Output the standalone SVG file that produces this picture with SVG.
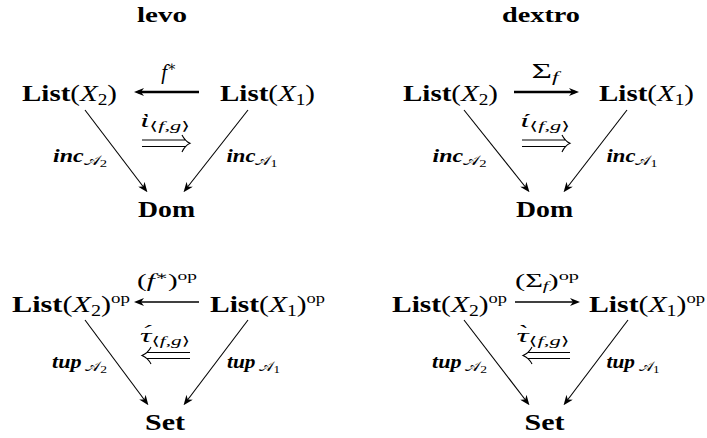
<svg xmlns="http://www.w3.org/2000/svg" width="707" height="438" viewBox="0 0 707 438">
<style>
text{font-family:"Liberation Serif","DejaVu Serif",serif;fill:#000}
.node{font-size:24px;text-anchor:middle}
.b{font-weight:bold}
.i{font-style:italic}
.bi{font-weight:bold;font-style:italic}
.lbl{font-size:18px;text-anchor:middle}
.big{font-size:21px}
.ttl{font-size:20px;font-weight:bold;text-anchor:middle}
.ar{stroke:#000;fill:none;marker-end:url(#ah)}
.thin{stroke-width:1.1}
.thick{stroke-width:2.6}
.med{stroke-width:1.6}
.dbl{stroke:#000;fill:none;stroke-width:1.1}
</style>
<defs>
<marker id="ah" viewBox="0 0 10 8" refX="6" refY="4" markerWidth="10" markerHeight="8" orient="auto" markerUnits="userSpaceOnUse">
<path d="M0,0 L10,4 L0,8 L3,4 z" fill="#000"/>
</marker>
</defs>

<text class="ttl" x="162" y="22" textLength="50" lengthAdjust="spacingAndGlyphs">levo</text>
<text class="ttl" x="541" y="22" textLength="78" lengthAdjust="spacingAndGlyphs">dextro</text>

<!-- top-left -->
<g id="tl-list2"><text class="node" x="69.5" y="101" textLength="95" lengthAdjust="spacingAndGlyphs"><tspan class="b">List</tspan>(<tspan class="i">X</tspan><tspan font-size="16" dy="4">2</tspan><tspan dy="-4">)</tspan></text></g>
<g id="tl-list1"><text class="node" x="267.5" y="101" textLength="95" lengthAdjust="spacingAndGlyphs"><tspan class="b">List</tspan>(<tspan class="i">X</tspan><tspan font-size="16" dy="4">1</tspan><tspan dy="-4">)</tspan></text></g>
<g id="tl-dom"><text class="node b" x="166.5" y="217" textLength="57" lengthAdjust="spacingAndGlyphs">Dom</text></g>

<!-- top-right -->
<g id="tr-list2"><text class="node" x="450.5" y="101" textLength="95" lengthAdjust="spacingAndGlyphs"><tspan class="b">List</tspan>(<tspan class="i">X</tspan><tspan font-size="16" dy="4">2</tspan><tspan dy="-4">)</tspan></text></g>
<g id="tr-list1"><text class="node" x="646.5" y="101" textLength="95" lengthAdjust="spacingAndGlyphs"><tspan class="b">List</tspan>(<tspan class="i">X</tspan><tspan font-size="16" dy="4">1</tspan><tspan dy="-4">)</tspan></text></g>
<g id="tr-dom"><text class="node b" x="544.5" y="217" textLength="57" lengthAdjust="spacingAndGlyphs">Dom</text></g>

<!-- bottom-left -->
<g id="bl-list2"><text class="node" x="71" y="312" textLength="118" lengthAdjust="spacingAndGlyphs"><tspan class="b">List</tspan>(<tspan class="i">X</tspan><tspan font-size="16" dy="4">2</tspan><tspan dy="-4">)</tspan><tspan font-size="15" dy="-9">op</tspan></text></g>
<g id="bl-list1"><text class="node" x="267.5" y="312" textLength="115" lengthAdjust="spacingAndGlyphs"><tspan class="b">List</tspan>(<tspan class="i">X</tspan><tspan font-size="16" dy="4">1</tspan><tspan dy="-4">)</tspan><tspan font-size="15" dy="-9">op</tspan></text></g>
<g id="bl-set"><text class="node b" x="165" y="430" textLength="40" lengthAdjust="spacingAndGlyphs">Set</text></g>

<!-- bottom-right -->
<g id="br-list2"><text class="node" x="449.5" y="312" textLength="115" lengthAdjust="spacingAndGlyphs"><tspan class="b">List</tspan>(<tspan class="i">X</tspan><tspan font-size="16" dy="4">2</tspan><tspan dy="-4">)</tspan><tspan font-size="15" dy="-9">op</tspan></text></g>
<g id="br-list1"><text class="node" x="647" y="312" textLength="116" lengthAdjust="spacingAndGlyphs"><tspan class="b">List</tspan>(<tspan class="i">X</tspan><tspan font-size="16" dy="4">1</tspan><tspan dy="-4">)</tspan><tspan font-size="15" dy="-9">op</tspan></text></g>
<g id="br-set"><text class="node b" x="544.5" y="430" textLength="40" lengthAdjust="spacingAndGlyphs">Set</text></g>

<g id="connectors">
<line class="ar thick" x1="199" y1="92" x2="138" y2="92"/>
<line class="ar thin" x1="85" y1="110" x2="145" y2="189"/>
<line class="ar thin" x1="248" y1="110" x2="186" y2="189"/>
<line class="ar thick" x1="514" y1="92" x2="575" y2="92"/>
<line class="ar thin" x1="464" y1="110" x2="527" y2="189"/>
<line class="ar thin" x1="627" y1="110" x2="566" y2="189"/>
<line class="ar med" x1="199" y1="302" x2="138" y2="302"/>
<line class="ar thin" x1="85" y1="320" x2="146" y2="402"/>
<line class="ar thin" x1="248" y1="320" x2="186" y2="402"/>
<line class="ar med" x1="515" y1="302" x2="576" y2="302"/>
<line class="ar thin" x1="464" y1="320" x2="527" y2="402"/>
<line class="ar thin" x1="628" y1="320" x2="566" y2="402"/>
<path class="dbl" d="M142,140 H186 M142,146.5 H186 M182,135 Q185,141 190,143.3 Q185,145.6 182,152"/>
<path class="dbl" d="M522,140 H566 M522,146.5 H566 M562,135 Q565,141 570,143.3 Q565,145.6 562,152"/>
<path class="dbl" d="M147,352.5 H190 M147,358.5 H190 M151,347 Q148,353 142,355.5 Q148,358 151,364"/>
<path class="dbl" d="M528,352.5 H570 M528,358.5 H570 M532,347 Q529,353 523,355.5 Q529,358 532,364"/>
</g>

<g id="labels">
<text class="lbl big" x="169" y="79"><tspan class="i">f</tspan><tspan font-size="14" dy="-8">∗</tspan></text>
<text class="lbl big" x="545" y="78" textLength="27" lengthAdjust="spacingAndGlyphs">Σ<tspan class="i" font-size="14" dy="4">f</tspan></text>
<text class="lbl" x="165" y="127" textLength="50" lengthAdjust="spacingAndGlyphs"><tspan class="i">ὶ</tspan><tspan font-size="12" dy="3">⟨<tspan class="i">f</tspan>,<tspan class="i">g</tspan>⟩</tspan></text>
<text class="lbl" x="545" y="127" textLength="50" lengthAdjust="spacingAndGlyphs"><tspan class="i">ί</tspan><tspan font-size="12" dy="3">⟨<tspan class="i">f</tspan>,<tspan class="i">g</tspan>⟩</tspan></text>
<text class="lbl" x="80" y="162" textLength="54" lengthAdjust="spacingAndGlyphs"><tspan class="bi">inc</tspan><tspan font-size="13" dy="3">𝒜</tspan><tspan font-size="11" dy="2">2</tspan></text>
<text class="lbl" x="252" y="162" textLength="51" lengthAdjust="spacingAndGlyphs"><tspan class="bi">inc</tspan><tspan font-size="13" dy="3">𝒜</tspan><tspan font-size="11" dy="2">1</tspan></text>
<text class="lbl" x="459.5" y="162" textLength="54" lengthAdjust="spacingAndGlyphs"><tspan class="bi">inc</tspan><tspan font-size="13" dy="3">𝒜</tspan><tspan font-size="11" dy="2">2</tspan></text>
<text class="lbl" x="632" y="162" textLength="51" lengthAdjust="spacingAndGlyphs"><tspan class="bi">inc</tspan><tspan font-size="13" dy="3">𝒜</tspan><tspan font-size="11" dy="2">1</tspan></text>

<text class="lbl" x="167" y="287" textLength="60" lengthAdjust="spacingAndGlyphs">(<tspan class="i">f</tspan><tspan font-size="12" dy="-7">∗</tspan><tspan dy="7">)</tspan><tspan font-size="12" dy="-7">op</tspan></text>
<text class="lbl" x="547" y="287" textLength="64" lengthAdjust="spacingAndGlyphs">(Σ<tspan class="i" font-size="12" dy="3">f</tspan><tspan dy="-3">)</tspan><tspan font-size="12" dy="-7">op</tspan></text>
<text class="lbl" x="165" y="342" textLength="50" lengthAdjust="spacingAndGlyphs"><tspan class="i">τ́</tspan><tspan font-size="12" dy="3">⟨<tspan class="i">f</tspan>,<tspan class="i">g</tspan>⟩</tspan></text>
<text class="lbl" x="543" y="342" textLength="53" lengthAdjust="spacingAndGlyphs"><tspan class="i">τ̀</tspan><tspan font-size="12" dy="3">⟨<tspan class="i">f</tspan>,<tspan class="i">g</tspan>⟩</tspan></text>
<text class="lbl" x="79.5" y="368" textLength="55" lengthAdjust="spacingAndGlyphs"><tspan class="bi">tup</tspan><tspan font-size="13" dy="3"> 𝒜</tspan><tspan font-size="11" dy="2">2</tspan></text>
<text class="lbl" x="253.5" y="368" textLength="53" lengthAdjust="spacingAndGlyphs"><tspan class="bi">tup</tspan><tspan font-size="13" dy="3"> 𝒜</tspan><tspan font-size="11" dy="2">1</tspan></text>
<text class="lbl" x="459.5" y="368" textLength="55" lengthAdjust="spacingAndGlyphs"><tspan class="bi">tup</tspan><tspan font-size="13" dy="3"> 𝒜</tspan><tspan font-size="11" dy="2">2</tspan></text>
<text class="lbl" x="633" y="368" textLength="53" lengthAdjust="spacingAndGlyphs"><tspan class="bi">tup</tspan><tspan font-size="13" dy="3"> 𝒜</tspan><tspan font-size="11" dy="2">1</tspan></text>
</g>
</svg>
